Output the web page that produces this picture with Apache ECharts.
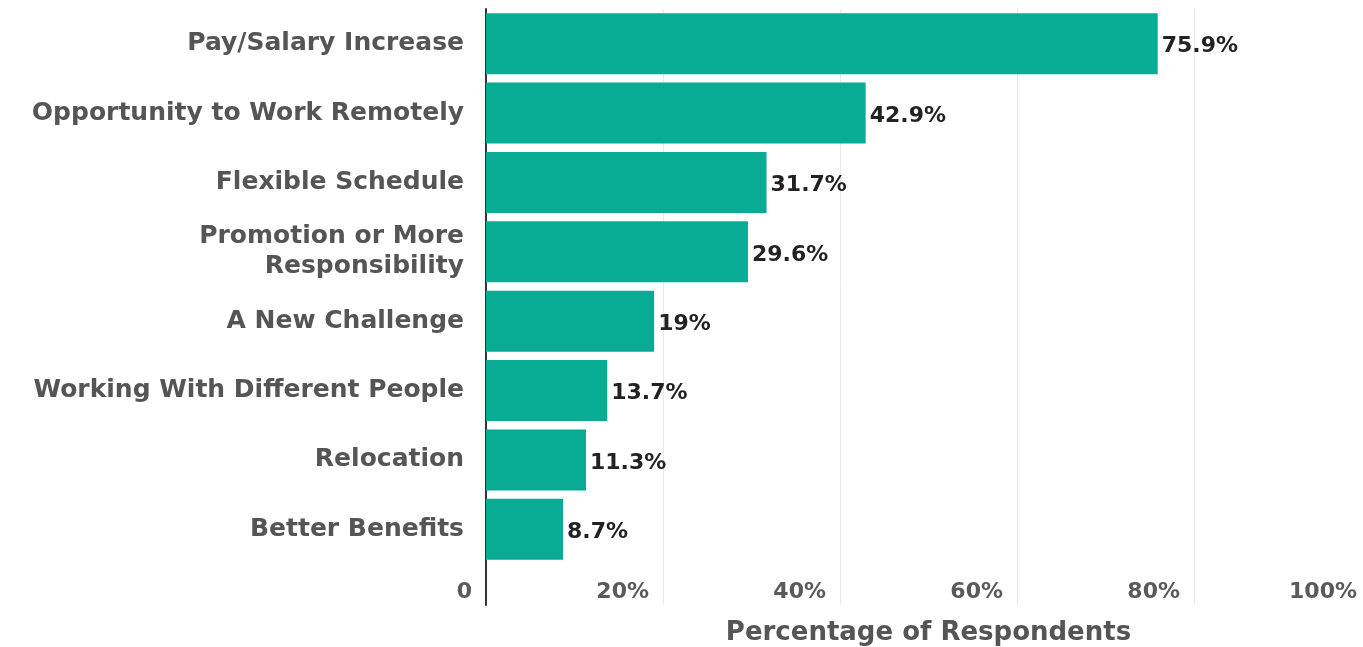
<!DOCTYPE html>
<html>
<head>
<meta charset="utf-8">
<script src="https://cdn.jsdelivr.net/npm/echarts@6/dist/echarts.min.js"></script>
<style>
  html, body { margin: 0; padding: 0; background: #fff; }
  #chart { width: 1363px; height: 647px; }
</style>
</head>
<body>
<div id="chart"></div>
<script>
// categories top to bottom
const categories = [
  'Pay/Salary Increase',
  'Opportunity to Work Remotely',
  'Flexible Schedule',
  'Promotion or More\nResponsibility',
  'A New Challenge',
  'Working With Different People',
  'Relocation',
  'Better Benefits'
];
const values = [75.9, 42.9, 31.7, 29.6, 19, 13.7, 11.3, 8.7];
const xTicks = [0, 20, 40, 60, 80, 100];
const axisTitle = 'Percentage of Respondents';

const chart = echarts.init(document.getElementById('chart'));

const option = {
  backgroundColor: '#ffffff',
  animation: false,
  grid: [
    // bars; 100% falls just past the right edge, as in the original
    { left: 486, width: 885, top: 9, height: 555, outerBoundsMode: 'none' },
    // empty strip under the bars
    { left: 486, width: 885, top: 564, height: 41, outerBoundsMode: 'none' }
  ],
  xAxis: [
    {
      type: 'value',
      gridIndex: 0,
      min: xTicks[0],
      max: xTicks[xTicks.length - 1],
      interval: 20,
      axisLine: { show: false },
      axisTick: { show: false },
      splitLine: { lineStyle: { color: '#e8e8e8', width: 1 } },
      axisLabel: {
        margin: 17,
        align: 'right',
        padding: [0, 14, 0, 0],
        fontFamily: 'DejaVu Sans',
        fontWeight: 'bold',
        fontSize: 22,
        color: '#5a5a5a',
        formatter: v => v === 0 ? '0' : v + '%'
      },
      name: axisTitle,
      nameLocation: 'middle',
      nameGap: 56,
      nameTextStyle: {
        fontFamily: 'DejaVu Sans',
        fontWeight: 'bold',
        fontSize: 26,
        color: '#555'
      }
    },
    {
      type: 'value',
      gridIndex: 1,
      min: xTicks[0],
      max: xTicks[xTicks.length - 1],
      interval: 20,
      axisLine: { show: false },
      axisTick: { show: false },
      axisLabel: { show: false },
      splitLine: { lineStyle: { color: '#e8e8e8', width: 1 } }
    }
  ],
  yAxis: [
    {
      type: 'category',
      gridIndex: 0,
      inverse: true,
      data: categories,
      axisLine: { lineStyle: { color: '#333', width: 2 } },
      axisTick: { show: false },
      axisLabel: {
        margin: 22,
        fontFamily: 'DejaVu Sans',
        fontWeight: 'bold',
        fontSize: 25,
        lineHeight: 30,
        color: '#555'
      }
    },
    {
      type: 'value',
      gridIndex: 1,
      min: 0,
      max: 1,
      axisLine: { show: true, lineStyle: { color: '#333', width: 2 } },
      axisTick: { show: false },
      axisLabel: { show: false },
      splitLine: { show: false }
    }
  ],
  series: [
    {
      type: 'bar',
      xAxisIndex: 0,
      yAxisIndex: 0,
      data: values,
      barCategoryGap: '12%',
      itemStyle: { color: '#08ab94' },
      label: {
        show: true,
        position: 'right',
        distance: 4,
        offset: [0, 3],
        fontFamily: 'DejaVu Sans',
        fontWeight: 'bold',
        fontSize: 22,
        color: '#222',
        formatter: p => p.value + '%'
      }
    }
  ]
};

chart.setOption(option);
window.addEventListener('resize', function () {
  chart.resize();
});
</script>
</body>
</html>
